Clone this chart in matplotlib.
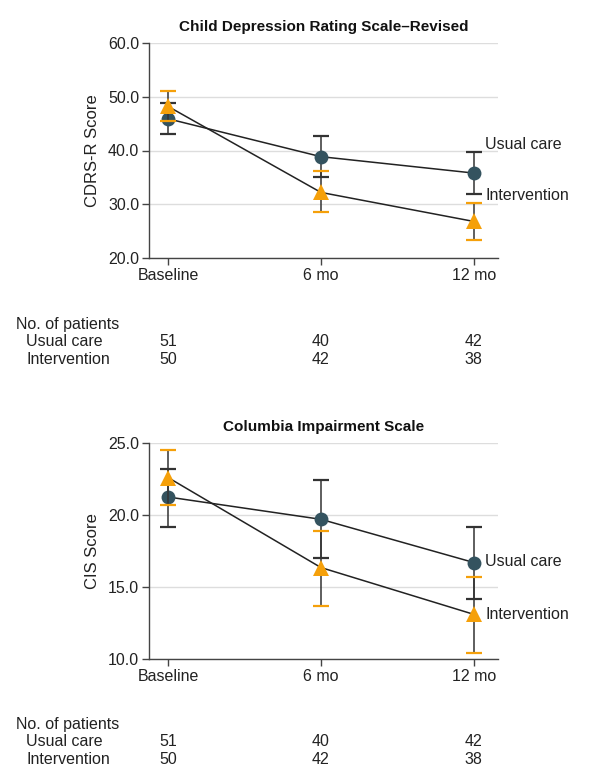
import numpy as np
import matplotlib
matplotlib.use("Agg")
import matplotlib.pyplot as plt

plt.rcParams['font.family'] = ['Liberation Sans', 'DejaVu Sans']

# data
timepoints = ["Baseline", "6 mo", "12 mo"]
months = [0, 6, 12]

cdrs_usual = [45.9, 38.85, 35.8]
cdrs_usual_lo = [43.0, 35.1, 31.9]
cdrs_usual_hi = [48.9, 42.7, 39.7]
cdrs_interv = [48.2, 32.2, 26.8]
cdrs_interv_lo = [45.5, 28.5, 23.3]
cdrs_interv_hi = [51.0, 36.2, 30.2]

cis_usual = [21.25, 19.7, 16.7]
cis_usual_lo = [19.2, 17.0, 14.2]
cis_usual_hi = [23.2, 22.45, 19.2]
cis_interv = [22.6, 16.35, 13.1]
cis_interv_lo = [20.7, 13.7, 10.4]
cis_interv_hi = [24.5, 18.9, 15.7]

n_usual = [51, 40, 42]
n_interv = [50, 42, 38]

DARK = "#222222"
BLUE = "#34535f"
ORANGE = "#f5a00a"

W, H = 592, 777
fig = plt.figure(figsize=(W / 100, H / 100), dpi=100)


def px_axes(left, top, right, bottom):
    return fig.add_axes([left / W, 1 - bottom / H, (right - left) / W, (bottom - top) / H])


def panel(ax, title, ylabel, ylim, yticks, usual, ulo, uhi, interv, ilo, ihi, ulab_y, ilab_y):
    x = np.array(months)
    for vals, lo, hi, mk, col, ms, z in [
        (usual, ulo, uhi, 'o', BLUE, 10, 3),
        (interv, ilo, ihi, '^', ORANGE, 11, 4),
    ]:
        vals = np.array(vals)
        err = [vals - np.array(lo), np.array(hi) - vals]
        eb = ax.errorbar(x, vals, yerr=err, fmt='none', ecolor="#333333", elinewidth=1.1,
                         capsize=5.5, capthick=1.6, zorder=z)
        capcol = "#333333" if col == BLUE else ORANGE
        for cl in eb[1]:
            cl.set_markeredgecolor(capcol)
            cl.set_color(capcol)
        ax.plot(x, vals, color=DARK, lw=1.1, zorder=z)
        ax.plot(x, vals, linestyle='none', marker=mk, ms=ms, color=col,
                markeredgewidth=0, zorder=z + 0.5)

    ax.set_xlim(-0.75, 12.95)
    ax.set_ylim(*ylim)
    ax.set_yticks(yticks)
    ax.set_yticklabels([f"{t:.1f}" for t in yticks], fontsize=11.5)
    ax.set_xticks(months)
    ax.set_xticklabels(timepoints, fontsize=11.5)
    ax.yaxis.grid(True, color="#dddddd", lw=1.0)
    ax.set_axisbelow(True)
    for s in ["top", "right"]:
        ax.spines[s].set_visible(False)
    for s in ["left", "bottom"]:
        ax.spines[s].set_color("#444444")
        ax.spines[s].set_linewidth(1.0)
    ax.tick_params(colors="#444444", length=5, width=1.0, labelcolor=DARK, pad=2)
    ax.set_ylabel(ylabel, fontsize=12, color=DARK, labelpad=6)
    ax.set_title(title, fontsize=11, fontweight='bold', color="#111111", pad=9)
    ax.text(12.45, ulab_y, "Usual care", fontsize=11.5, color=DARK, va='center', ha='left',
            clip_on=False)
    ax.text(12.45, ilab_y, "Intervention", fontsize=11.5, color=DARK, va='center', ha='left',
            clip_on=False)


ax1 = px_axes(149, 43, 498, 258)
panel(ax1, "Child Depression Rating Scale\u2013Revised", "CDRS-R Score", (20, 60),
      [20.0, 30.0, 40.0, 50.0, 60.0], cdrs_usual, cdrs_usual_lo, cdrs_usual_hi,
      cdrs_interv, cdrs_interv_lo, cdrs_interv_hi, 41.2, 31.6)

ax2 = px_axes(149, 443, 498, 659)
panel(ax2, "Columbia Impairment Scale", "CIS Score", (10, 25),
      [10.0, 15.0, 20.0, 25.0], cis_usual, cis_usual_lo, cis_usual_hi,
      cis_interv, cis_interv_lo, cis_interv_hi, 16.75, 13.1)


def patient_table(ax, y0):
    fig.text(16 / W, 1 - y0 / H, "No. of patients", fontsize=11.5, color=DARK, va='center')
    fig.text(26 / W, 1 - (y0 + 17) / H, "Usual care", fontsize=11.5, color=DARK, va='center')
    fig.text(26 / W, 1 - (y0 + 34) / H, "Intervention", fontsize=11.5, color=DARK, va='center')
    for m, nu, ni in zip(months, n_usual, n_interv):
        xf = fig.transFigure.inverted().transform(ax.transData.transform((m, ax.get_ylim()[0])))[0]
        fig.text(xf, 1 - (y0 + 17) / H, str(nu), fontsize=11.5, color=DARK, va='center', ha='center')
        fig.text(xf, 1 - (y0 + 34) / H, str(ni), fontsize=11.5, color=DARK, va='center', ha='center')


patient_table(ax1, 325)
patient_table(ax2, 725)

fig.savefig("out.png", dpi=100, facecolor="white")
